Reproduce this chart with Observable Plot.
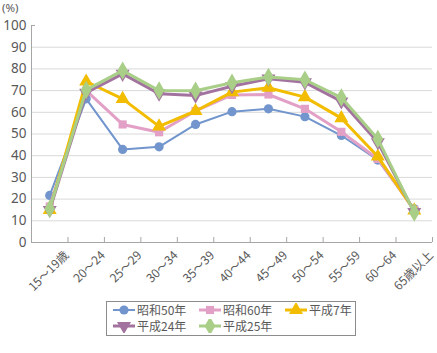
<!DOCTYPE html>
<html><head><meta charset="utf-8">
<script src="https://cdn.jsdelivr.net/npm/d3@7"></script>
<script src="https://cdn.jsdelivr.net/npm/@observablehq/plot@0.6"></script>
<style>
body{margin:0;background:#fff;font-family:"Noto Sans CJK JP","Noto Sans",sans-serif;color:#595959;}
#wrap{position:relative;width:437px;height:353px;overflow:hidden;}
#ylab{position:absolute;left:2px;top:0px;font-family:"Noto Sans",sans-serif;font-size:11.5px;line-height:16px;}
#chart{position:absolute;left:0;top:0;}
#legend{position:absolute;left:106px;top:301px;width:248px;height:33px;border:1px solid #8c8c8c;background:#fff;}
.item{position:absolute;display:flex;align-items:center;font-size:12px;line-height:14px;white-space:nowrap;}
.item svg{margin-right:2px;}
</style></head><body>
<div id="wrap"><div id="chart"></div><div id="ylab">(%)</div><div id="legend"></div></div>
<script>
const categories = ["15～19歳","20～24","25～29","30～34","35～39","40～44","45～49","50～54","55～59","60～64","65歳以上"];
const seriesNames = ["昭和50年","昭和60年","平成7年","平成24年","平成25年"];
const showa50 = [21.7, 66.2, 42.9, 44.1, 54.4, 60.3, 61.6, 58.0, 49.3, 38.0, 15.5];
const showa60 = [16.6, 70.0, 54.4, 50.8, 60.6, 68.0, 68.2, 61.6, 51.0, 38.5, 15.0];
const heisei7 = [15.0, 74.2, 66.2, 53.5, 60.6, 69.3, 71.3, 67.0, 57.3, 39.6, 14.8];
const heisei24 = [15.0, 69.0, 77.7, 68.6, 67.7, 72.0, 75.5, 73.8, 65.0, 46.2, 14.0];
const heisei25 = [15.6, 70.3, 79.2, 70.0, 69.9, 73.6, 76.3, 75.0, 66.8, 47.7, 13.8];
const yTicks = [0,10,20,30,40,50,60,70,80,90,100];
const gridTicks = [10,20,30,40,50,60,70,80,90];

const colors = ["#7195cc","#e3a0c6","#f2bd00","#a3739f","#a8ce88"];
const widths = [2, 3, 3, 3, 3];
const downTriangle = {
  draw(context, size) {
    const s3 = Math.sqrt(3);
    const y = -Math.sqrt(size / (s3 * 3));
    context.moveTo(0, -y * 2);
    context.lineTo(-s3 * y, y);
    context.lineTo(s3 * y, y);
    context.closePath();
  }
};
const symbols = ["circle","square","triangle",downTriangle,"diamond"];
const radii = [4.6, 4.6, 5.2, 5.2, 5.6];
const allSeries = [showa50, showa60, heisei7, heisei24, heisei25];

const rows = allSeries.map((vals, s) => vals.map((v, i) => ({i, cat: categories[i], series: seriesNames[s], value: v})));

const marks = [
  Plot.ruleY(gridTicks, {x1: 0, x2: categories.length, stroke: "#d9d9d9", strokeWidth: 1}),
  Plot.ruleY([0], {x1: 0, x2: categories.length, stroke: "#a6a6a6"}),
  Plot.ruleX([0], {y1: 0, y2: 100, stroke: "#a6a6a6"}),
  Plot.axisY({ticks: yTicks, tickSize: 0, tickPadding: 5, fontSize: 13.5, fontFamily: '"Noto Sans",sans-serif', label: null}),
  Plot.axisY({ticks: [100], tickSize: 4, tickFormat: () => "", dx: 4, stroke: "#a6a6a6", label: null}),
  Plot.axisX({ticks: d3.range(1, categories.length + 1), tickSize: 5, tickFormat: () => "", dy: -5, stroke: "#a6a6a6", label: null}),
  Plot.axisX({ticks: d3.range(categories.length).map(i => i + 0.5), tickSize: 0, tickRotate: -45, label: null,
    tickFormat: d => categories[Math.floor(d)], fontSize: 12, dx: 17, dy: -1})
];
rows.forEach((data, s) => {
  marks.push(Plot.line(data, {x: d => d.i + 0.5, y: "value", stroke: colors[s], strokeWidth: widths[s]}));
  marks.push(Plot.dot(data, {x: d => d.i + 0.5, y: "value", fill: colors[s], stroke: "none", symbol: symbols[s], r: radii[s]}));
});

const chart = Plot.plot({
  width: 437, height: 300,
  marginLeft: 31, marginRight: 5, marginTop: 25, marginBottom: 58,
  style: {fontFamily: '"Noto Sans CJK JP","Noto Sans",sans-serif', color: "#595959", background: "transparent"},
  x: {type: "linear", domain: [0, categories.length], axis: null},
  y: {domain: [0, 100], axis: null},
  marks
});
document.getElementById("chart").appendChild(chart);

// legend
const legend = document.getElementById("legend");
const pos = [[6, 1], [92, 1], [178, 1], [6, 17], [92, 17]];
seriesNames.forEach((name, s) => {
  const div = document.createElement("div");
  div.className = "item";
  div.style.left = pos[s][0] + "px";
  div.style.top = pos[s][1] + "px";
  const svg = d3.create("svg").attr("width", 22).attr("height", 14);
  svg.append("line").attr("x1", 0).attr("x2", 22).attr("y1", 7).attr("y2", 7)
    .attr("stroke", colors[s]).attr("stroke-width", widths[s]);
  const symType = s === 0 ? d3.symbolCircle : s === 1 ? d3.symbolSquare : s === 2 ? d3.symbolTriangle : s === 3 ? downTriangle : d3.symbolDiamond;
  svg.append("path").attr("transform", "translate(11,7)")
    .attr("d", d3.symbol(symType, Math.PI * radii[s] * radii[s])())
    .attr("fill", colors[s]);
  div.appendChild(svg.node());
  const span = document.createElement("span");
  span.textContent = name;
  div.appendChild(span);
  legend.appendChild(div);
});
</script>
</body></html>
